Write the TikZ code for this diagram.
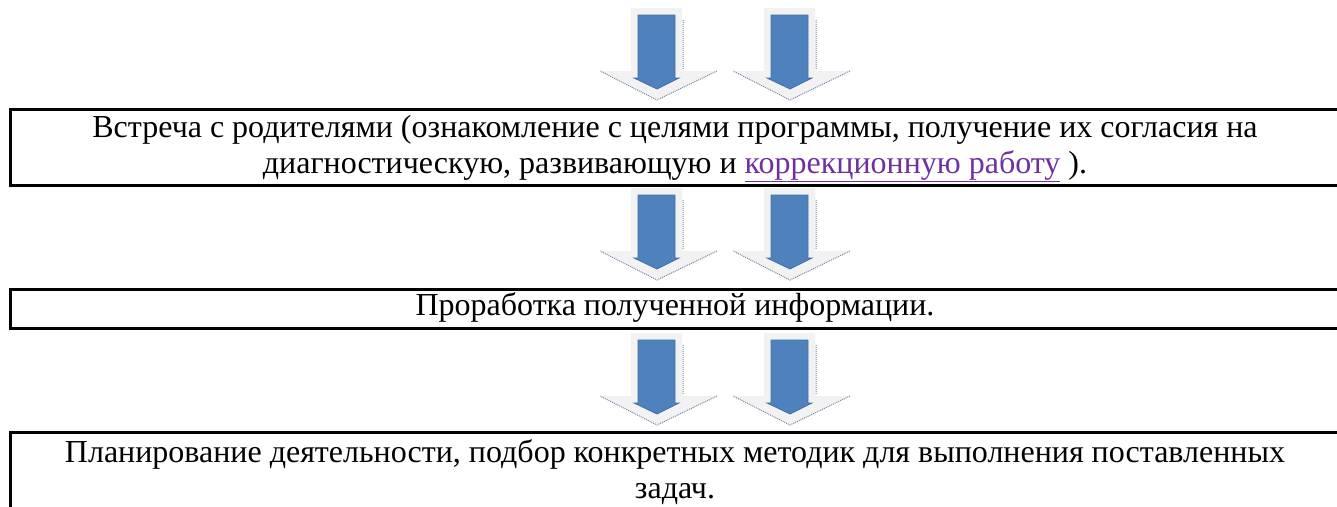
\documentclass[tikz,border=0pt]{standalone}
\usepackage{fontspec}
\setmainfont{Liberation Serif}
\definecolor{arrowblue}{RGB}{79,129,189}
\definecolor{arrowedge}{RGB}{65,113,170}
\definecolor{shadowgray}{RGB}{242,242,242}
\definecolor{dotgray}{RGB}{120,135,165}
\definecolor{linkpurple}{RGB}{112,48,160}
\tikzset{
  frameline/.style={line width=3pt},
  boxtext/.style={anchor=base, align=center, inner sep=0pt, font=\fontsize{32}{35.5}\selectfont},
  pics/downarrow/.style={code={
    \fill[shadowgray] (-26,0) -- (25,0) -- (25,63) -- (60,63) -- (0,92) -- (-57,63) -- (-26,63) -- cycle;
    \draw[dotgray, densely dotted, line width=1pt] (26,12) -- (26,62) (60,63) -- (0,92) -- (-57,63);
    \filldraw[fill=arrowblue, draw=arrowedge, line width=0.8pt] (-19,7) -- (18,7) -- (18,70) -- (22,70) -- (0,81) -- (-23,70) -- (-19,70) -- cycle;
  }}
}
\begin{document}
\begin{tikzpicture}[x=1pt,y=-1pt]
  \useasboundingbox (0,0) rectangle (1337,506);
  \clip (0,0) rectangle (1337,506);
  % arrows between the frames
  \foreach \ytop in {8,188,333} {
    \pic at (657,\ytop) {downarrow};
    \pic at (790,\ytop) {downarrow};
  }
  % frames, open to the right
  \draw[frameline] (1345,109) -| (10,185) -- (1345,185);
  \draw[frameline] (1345,289) -| (10,328) -- (1345,328);
  \draw[frameline] (1345,432) -| (10,520);
  % texts (base = last line)
  \node[boxtext] (meet) at (675,173) {Встреча с родителями (ознакомление с целями программы, получение их согласия на\\диагностическую, развивающую и {\color{linkpurple}\underline{коррекционную работу}} ).};
  \node[boxtext] (info) at (675,315) {Проработка полученной информации.};
  \node[boxtext] (plan) at (675,498) {Планирование деятельности, подбор конкретных методик для выполнения поставленных\\задач.};
\end{tikzpicture}
\end{document}
